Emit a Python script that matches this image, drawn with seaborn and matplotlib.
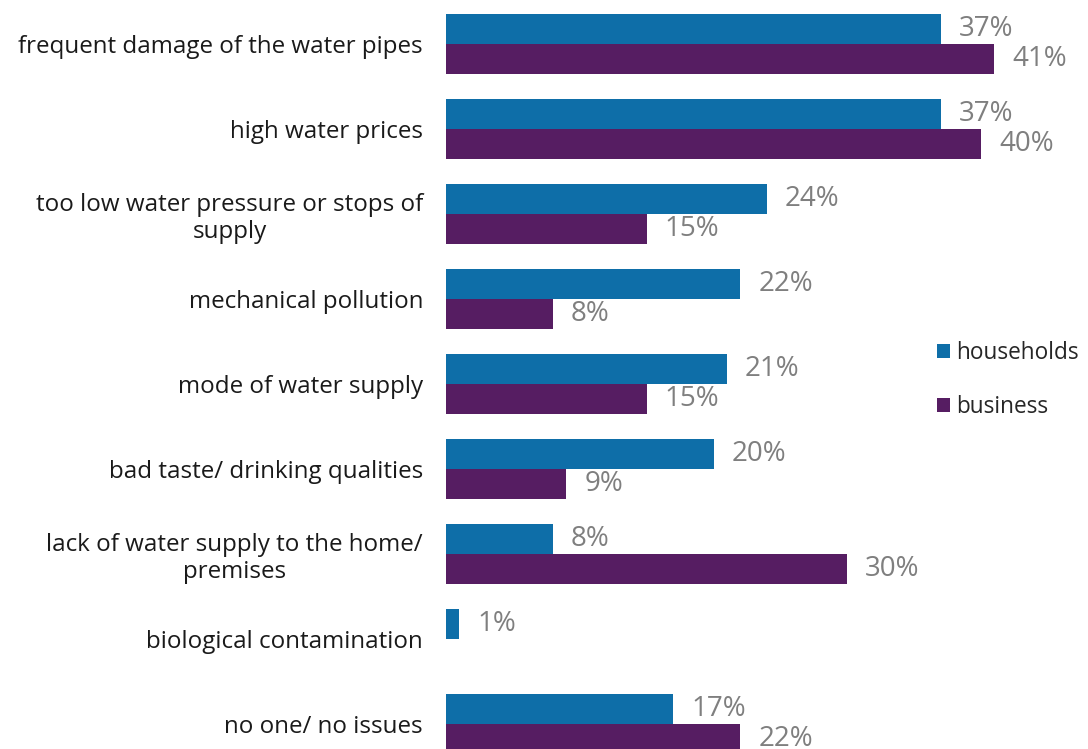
import pandas as pd
import matplotlib
matplotlib.use("Agg")
import matplotlib.pyplot as plt
import seaborn as sns
from matplotlib.patches import Patch

# data
categories = [
    "frequent damage of the water pipes",
    "high water prices",
    "too low water pressure or stops of\nsupply",
    "mechanical pollution",
    "mode of water supply",
    "bad taste/ drinking qualities",
    "lack of water supply to the home/\npremises",
    "biological contamination",
    "no one/ no issues",
]
households = [37, 37, 24, 22, 21, 20, 8, 1, 17]
business = [41, 40, 15, 8, 15, 9, 30, 0, 22]
groups = ["households", "business"]
colors = ["#0E6EA8", "#561D62"]


def main():
    sns.set_theme(style="white")
    plt.rcParams["font.family"] = ["Open Sans", "DejaVu Sans"]

    df = pd.DataFrame({
        "issue": categories * 2,
        "share": households + business,
        "group": [groups[0]] * len(categories) + [groups[1]] * len(categories),
    })

    fig = plt.figure(figsize=(10.88, 7.49), dpi=100)
    ax = fig.add_axes([446 / 1088, 0, 1 - 446 / 1088, 1])

    sns.barplot(data=df, y="issue", x="share", hue="group", order=categories,
                hue_order=groups, palette=colors, width=0.706, gap=0,
                orient="h", ax=ax, legend=False, saturation=1, linewidth=0)

    ax.set_xlim(0, 48)
    ax.set_ylim(8.294, -0.518)
    ax.set_xlabel("")
    ax.set_ylabel("")
    ax.set_xticks([])
    for s in ax.spines.values():
        s.set_visible(False)
    ax.tick_params(axis="y", length=0, pad=16.5, labelsize=17.4)
    for lbl in ax.get_yticklabels():
        lbl.set_multialignment("center")
        lbl.set_color("#1a1a1a")
        lbl.set_linespacing(1.15)

    # value labels
    for container in ax.containers:
        labels = [f"{v:.0f}%" if v > 0 else "" for v in container.datavalues]
        ax.bar_label(container, labels=labels, padding=13, fontsize=20,
                     color="#7f7f7f")

    handles = [Patch(facecolor=c, edgecolor="none") for c in colors]
    fig.legend(handles, groups, loc="center left",
               bbox_to_anchor=(928 / 1088, 1 - 380 / 749), frameon=False,
               fontsize=16.3, handlelength=0.55, handleheight=0.55,
               handletextpad=0.3, labelspacing=1.3, borderaxespad=0)

    fig.savefig("out.png", dpi=100)


if __name__ == "__main__":
    main()
